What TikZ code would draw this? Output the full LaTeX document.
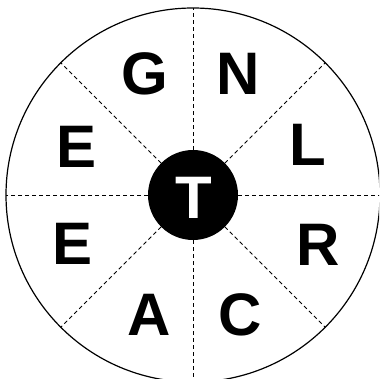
\documentclass[tikz,border=0pt]{standalone}
\usepackage{fontspec}
\setmainfont{Liberation Sans}
\usetikzlibrary{calc}
\begin{document}
\begin{tikzpicture}[x=1pt,y=-1pt,
  letter/.style={font=\fontsize{60}{60}\bfseries\selectfont, inner sep=0pt},
  spoke/.style={dashed, dash pattern=on 4pt off 3pt, line width=0.9pt},
  rim/.style={line width=1.2pt}]
\useasboundingbox (0,0) rectangle (379,379);
\clip (0,0) rectangle (379,379);
\coordinate (c) at (193,195);
\draw[rim] (c) circle (187);
\foreach \a in {0,45,...,315}{
  \draw[spoke] ($(c)+(\a:45)$) -- ($(c)+(\a:187)$);
}
\node[circle, fill=black, minimum size=90pt, inner sep=0pt] (hub) at (c) {};
\node[letter, text=white] (t) at (194,198) {T};
\node[letter] (g) at (145,74) {G};
\node[letter] (n) at (238,74) {N};
\node[letter] (e1) at (77,147) {E};
\node[letter] (l) at (308,145) {L};
\node[letter] (e2) at (73,244) {E};
\node[letter] (r) at (318,245) {R};
\node[letter] (a) at (149,315) {A};
\node[letter] (cc) at (240,315) {C};
\end{tikzpicture}
\end{document}
